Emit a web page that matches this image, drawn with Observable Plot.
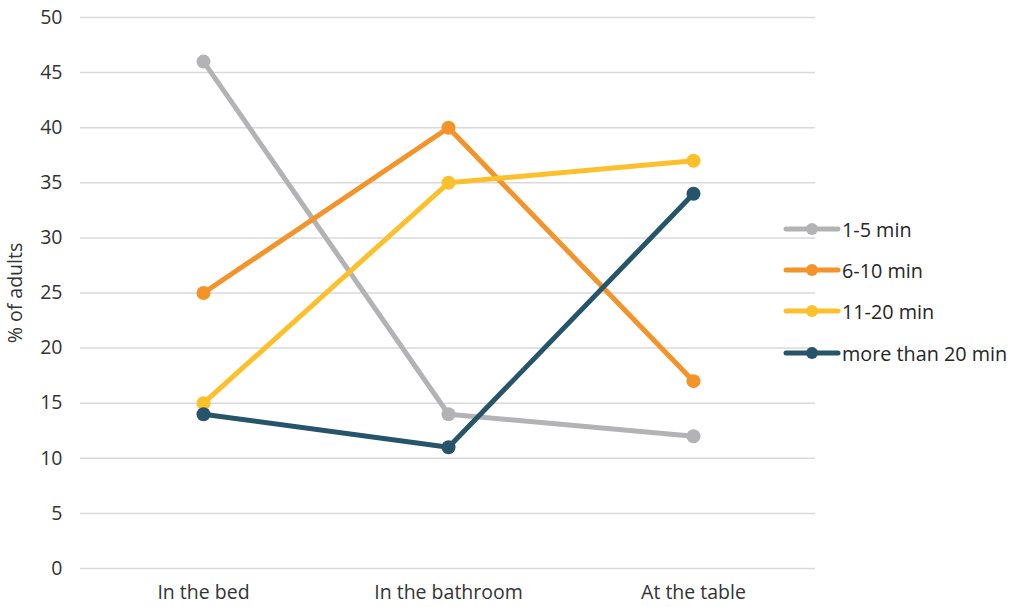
<!DOCTYPE html>
<html>
<head>
<meta charset="utf-8">
<script src="https://cdn.jsdelivr.net/npm/d3@7"></script>
<script src="https://cdn.jsdelivr.net/npm/@observablehq/plot@0.6"></script>
<style>
  body { margin: 0; background: #fff; }
  #wrap { position: relative; width: 1019px; height: 607px; font-family: "Open Sans", sans-serif; }
  #legend { position: absolute; left: 783px; top: 0; }
  .item { position: absolute; display: flex; align-items: center; white-space: nowrap; font-size: 19.8px; color: #262626; }
</style>
</head>
<body>
<div id="wrap"><div id="legend"></div></div>
<script>
const categories = ["In the bed", "In the bathroom", "At the table"];
const seriesNames = ["1-5 min", "6-10 min", "11-20 min", "more than 20 min"];
const colors = ["#b3b3b6", "#f39329", "#fcc02d", "#26546a"];
const values1to5 = [46, 14, 12];
const values6to10 = [25, 40, 17];
const values11to20 = [15, 35, 37];
const valuesOver20 = [14, 11, 34];
const yTicks = [0, 5, 10, 15, 20, 25, 30, 35, 40, 45, 50];

const seriesValues = [values1to5, values6to10, values11to20, valuesOver20];
const data = [];
seriesNames.forEach((s, i) => categories.forEach((c, j) => data.push({series: s, cat: c, value: seriesValues[i][j]})));

const chart = Plot.plot({
  width: 1019,
  height: 607,
  marginLeft: 80,
  marginRight: 204,
  marginTop: 17,
  marginBottom: 39,
  style: {fontFamily: "'Open Sans', sans-serif", fontSize: "19.5px", color: "#333333", background: "#fff"},
  x: {type: "point", domain: categories, padding: 0.5, label: null, tickSize: 0, tickPadding: 17},
  y: {domain: [0, 50], ticks: yTicks, label: "% of adults", labelAnchor: "center", labelArrow: "none", tickSize: 0, tickPadding: 18, labelOffset: 72},
  color: {domain: seriesNames, range: colors},
  marks: [
    Plot.gridY(yTicks, {stroke: "#d9d9d9", strokeOpacity: 1, strokeWidth: 1.5}),
    Plot.line(data, {x: "cat", y: "value", z: "series", stroke: "series", strokeWidth: 5}),
    Plot.dot(data, {x: "cat", y: "value", fill: "series", r: 7})
  ]
});
document.getElementById("wrap").prepend(chart);

const legend = document.getElementById("legend");
const legendTops = [229, 270, 311, 353];
seriesNames.forEach((s, i) => {
  const item = document.createElement("div");
  item.className = "item";
  item.style.top = (legendTops[i] - 14) + "px";
  item.style.height = "28px";
  item.innerHTML = `<svg width="58" height="28" style="margin-right:1px"><line x1="3" x2="55" y1="14" y2="14" stroke="${colors[i]}" stroke-width="5" stroke-linecap="round"/><circle cx="29" cy="14" r="6" fill="${colors[i]}"/></svg><span>${s}</span>`;
  legend.appendChild(item);
});
</script>
</body>
</html>
